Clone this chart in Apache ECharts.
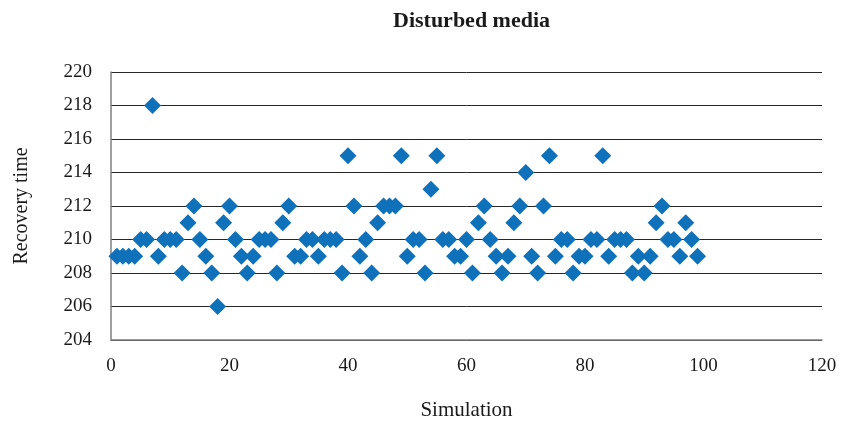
<!DOCTYPE html>
<html>
<head>
<meta charset="utf-8">
<script src="https://cdn.jsdelivr.net/npm/echarts@6/dist/echarts.min.js"></script>
<style>
html,body{margin:0;padding:0;background:#fff;}
#chart{width:842px;height:426px;}
</style>
</head>
<body>
<div id="chart"></div>
<script>
var simulation = [
	1,2,3,4,5,6,7,8,9,10,11,12,13,14,15,16,17,18,19,20,
	21,22,23,24,25,26,27,28,29,30,31,32,33,34,35,36,37,38,39,40,
	41,42,43,44,45,46,47,48,49,50,51,52,53,54,55,56,57,58,59,60,
	61,62,63,64,65,66,67,68,69,70,71,72,73,74,75,76,77,78,79,80,
	81,82,83,84,85,86,87,88,89,90,91,92,93,94,95,96,97,98,99
];
var recoveryTime = [
	209,209,209,209,210,210,218,209,210,210,210,208,211,212,210,209,208,206,211,212,
	210,209,208,209,210,210,210,208,211,212,209,209,210,210,209,210,210,210,208,215,
	212,209,210,208,211,212,212,212,215,209,210,210,208,213,215,210,210,209,209,210,
	208,211,212,210,209,208,209,211,212,214,209,208,212,215,209,210,210,208,209,209,
	210,210,215,209,210,210,210,208,209,208,209,211,212,210,210,209,211,210,209
];
var xTicks = [0, 120, 20];   // min, max, interval
var yTicks = [204, 220, 2];

var serif = '"Liberation Serif", "DejaVu Serif", serif';

function toPoints(xs, ys){
	var d = [];
	for (var i = 0; i < xs.length; i++) {
		d.push([xs[i], ys[i]]);
	}
	return d;
}

var eChart = echarts.init(document.getElementById('chart'));
var option = {
	animation: false,
	backgroundColor: '#fff',
	title: {
		text: 'Disturbed media',
		left: 388,
		top: 5,
		textStyle: {fontFamily: serif, fontWeight: 'bold', fontSize: 22, color: '#1a1a1a'}
	},
	grid: {left: 111, right: 20, top: 72, bottom: 83},
	xAxis: {
		type: 'value',
		min: xTicks[0], max: xTicks[1], interval: xTicks[2],
		name: 'Simulation',
		nameLocation: 'middle',
		nameGap: 60,
		nameTextStyle: {fontFamily: serif, fontSize: 21, color: '#1a1a1a'},
		axisLine: {show: true, lineStyle: {color: '#7f7f7f', width: 1.5}},
		axisTick: {show: false},
		splitLine: {show: false},
		axisLabel: {fontFamily: serif, fontSize: 19, color: '#1a1a1a', margin: 17}
	},
	yAxis: {
		type: 'value',
		min: yTicks[0], max: yTicks[1], interval: yTicks[2],
		name: 'Recovery time',
		nameLocation: 'middle',
		nameGap: 79,
		nameTextStyle: {fontFamily: serif, fontSize: 20, color: '#1a1a1a'},
		axisLine: {show: true, lineStyle: {color: '#7f7f7f', width: 1.5}},
		axisTick: {show: false},
		splitLine: {show: true, lineStyle: {color: '#262626', width: 1}},
		axisLabel: {fontFamily: serif, fontSize: 19, color: '#1a1a1a', margin: 19}
	},
	series: [{
		name: 'Recovery time',
		type: 'scatter',
		symbol: 'diamond',
		symbolSize: [17, 17],
		itemStyle: {color: '#0F71BA', opacity: 1},
		data: toPoints(simulation, recoveryTime)
	}]
};
eChart.setOption(option);
</script>
</body>
</html>
